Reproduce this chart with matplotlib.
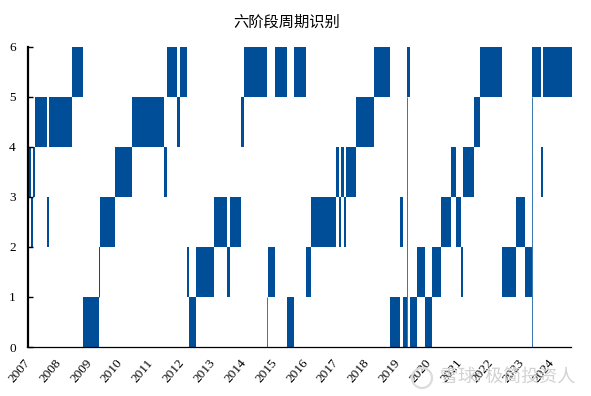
import matplotlib
matplotlib.use("Agg")
import matplotlib.pyplot as plt
from matplotlib.patches import Circle
from matplotlib.transforms import ScaledTranslation

title = "六阶段周期识别"
watermark = "雪球: 极简投资人"
year_ticks = list(range(2007, 2025))
level_ticks = [0, 1, 2, 3, 4, 5, 6]

# regime level (bar spans level .. level+1) and its start / end in decimal years
levels = [3, 2, 3, 4, 2, 4, 5, 0, 1, 2, 3, 4, 3, 5, 4, 5, 1, 0, 1, 2, 1, 2, 4, 5,
          1, 5, 0, 5, 1, 2, 3, 2, 3, 2, 3, 4, 5, 0, 2, 0, 5, 0, 1, 0, 1, 2, 3, 2, 1,
          3, 4, 5, 1, 2, 1, 5, 3, 5]
starts = [2007.00, 2007.11, 2007.18, 2007.24, 2007.63, 2007.70, 2008.44, 2008.80,
          2009.32, 2009.35, 2009.84, 2010.39, 2011.42, 2011.52, 2011.85, 2011.94,
          2012.17, 2012.24, 2012.46, 2013.05, 2013.47, 2013.56, 2013.92, 2014.02,
          2014.80, 2015.02, 2015.41, 2015.64, 2016.03, 2016.19, 2017.00, 2017.10,
          2017.16, 2017.26, 2017.32, 2017.65, 2018.23, 2018.75, 2019.08, 2019.17,
          2019.30, 2019.40, 2019.63, 2019.89, 2020.11, 2020.40, 2020.73, 2020.89,
          2021.05, 2021.12, 2021.47, 2021.67, 2022.38, 2022.84, 2023.13, 2023.36,
          2023.65, 2023.71]
ends = [2007.11, 2007.18, 2007.24, 2007.63, 2007.70, 2008.44, 2008.80, 2009.32,
        2009.35, 2009.84, 2010.39, 2011.42, 2011.52, 2011.85, 2011.94, 2012.17,
        2012.24, 2012.46, 2013.05, 2013.47, 2013.56, 2013.92, 2014.02, 2014.76,
        2015.02, 2015.41, 2015.64, 2016.03, 2016.19, 2017.00, 2017.10, 2017.16,
        2017.26, 2017.32, 2017.65, 2018.23, 2018.75, 2019.08, 2019.17, 2019.30,
        2019.40, 2019.63, 2019.89, 2020.11, 2020.40, 2020.73, 2020.89, 2021.05,
        2021.12, 2021.47, 2021.67, 2022.38, 2022.84, 2023.13, 2023.36, 2023.65,
        2023.71, 2024.65]

# single-week regime changes, drawn as hairlines
spike_years = [2009.33, 2014.77, 2019.31, 2023.36]
spike_low = [1, 0, 0, 0]
spike_high = [2, 1, 5, 5]

plt.rcParams["font.family"] = ["Liberation Serif", "Noto Sans CJK SC"]
BLUE = "#004e98"

fig = plt.figure(figsize=(5.91, 3.96), dpi=100)
W, H = 591, 396
ax = fig.add_axes([27.5 / W, 1 - 347 / H, (570.7 - 27.5) / W, (347 - 46.7) / H])

for lv, s, e in zip(levels, starts, ends):
    ax.bar(s, 1, width=e - s, bottom=lv, align="edge", color=BLUE, linewidth=0,
           clip_on=False)
ax.vlines(spike_years, spike_low, spike_high, color=BLUE, linewidth=0.55)

ax.set_xlim(2007, 2024.607)
ax.set_ylim(0, 6)
for side in ("top", "right"):
    ax.spines[side].set_visible(False)
ax.spines["left"].set_linewidth(1.6)
ax.spines["bottom"].set_linewidth(0.9)

ax.set_yticks(level_ticks)
ax.tick_params(axis="y", direction="in", length=3.5, width=1.0, pad=8.5, labelsize=9.5)
ax.set_xticks(year_ticks)
ax.set_xticklabels(year_ticks, rotation=50, ha="right", rotation_mode="anchor", fontsize=9.5)
ax.tick_params(axis="x", length=0, pad=7)
shift = ScaledTranslation(-4 / 100, 0, fig.dpi_scale_trans)
for lab in ax.get_xticklabels():
    lab.set_transform(lab.get_transform() + shift)

fig.text(287 / W, 1 - 22 / H, title, ha="center", va="center", fontsize=11,
         family=["Noto Sans CJK SC"])
fig.add_artist(Circle((422, H - 378), 10, transform=None, fill=False,
                      edgecolor="#dcdcdc", linewidth=1.6))
fig.text(575 / W, 1 - 378 / H, watermark, ha="right", va="center", fontsize=13,
         color="#d2d2d2", family=["Noto Sans CJK SC"], zorder=10)

fig.savefig("out.png", dpi=100)
